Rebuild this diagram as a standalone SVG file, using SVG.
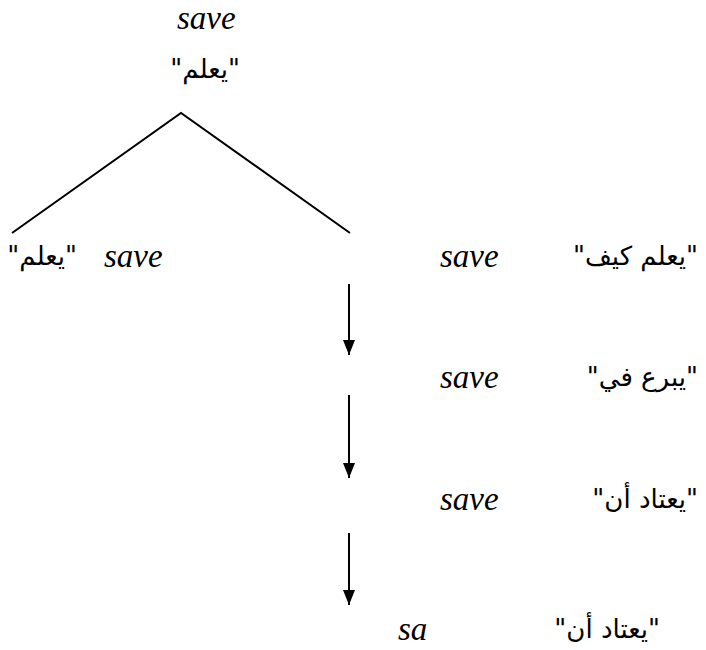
<svg xmlns="http://www.w3.org/2000/svg" width="706" height="650" viewBox="0 0 706 650">
<style>
.ln{stroke:#000;stroke-width:2;fill:none}
</style>
<defs>
<marker id="ah" markerWidth="15" markerHeight="12" refX="15" refY="6" orient="auto" markerUnits="userSpaceOnUse" viewBox="0 0 15 12">
<path d="M0,0 L15,6 L0,12 Z" fill="#000"/>
</marker>
</defs>
<rect width="706" height="650" fill="#fff"/>
<g id="connectors">
<path class="ln" d="M12,233 L181,113 L350,233"/>
<line class="ln" x1="349" y1="284" x2="349" y2="355" marker-end="url(#ah)"/>
<line class="ln" x1="349" y1="395" x2="349" y2="478" marker-end="url(#ah)"/>
<line class="ln" x1="349" y1="533" x2="349" y2="605" marker-end="url(#ah)"/>
</g>
<g id="root">
<text font-family="Liberation Serif" font-style="italic" font-size="33" x="177" y="29">save</text>
<text font-family="DejaVu Sans" font-size="26" x="240" y="78" text-anchor="end">"يعلم"</text>
</g>
<g id="left">
<text font-family="DejaVu Sans" font-size="26" x="77" y="265" text-anchor="end">"يعلم"</text>
<text font-family="Liberation Serif" font-style="italic" font-size="33" x="104" y="267">save</text>
</g>
<g id="row1">
<text font-family="Liberation Serif" font-style="italic" font-size="33" x="440" y="267">save</text>
<text font-family="DejaVu Sans" font-size="26" x="698" y="265" text-anchor="end">"يعلم كيف"</text>
</g>
<g id="row2">
<text font-family="Liberation Serif" font-style="italic" font-size="33" x="440" y="388">save</text>
<text font-family="DejaVu Sans" font-size="26" x="698" y="386" text-anchor="end">"يبرع في"</text>
</g>
<g id="row3">
<text font-family="Liberation Serif" font-style="italic" font-size="33" x="440" y="510">save</text>
<text font-family="DejaVu Sans" font-size="26" x="698" y="508" text-anchor="end">"يعتاد أن"</text>
</g>
<g id="row4">
<text font-family="Liberation Serif" font-style="italic" font-size="33" x="398" y="640">sa</text>
<text font-family="DejaVu Sans" font-size="26" x="660" y="638" text-anchor="end">"يعتاد أن"</text>
</g>
</svg>
